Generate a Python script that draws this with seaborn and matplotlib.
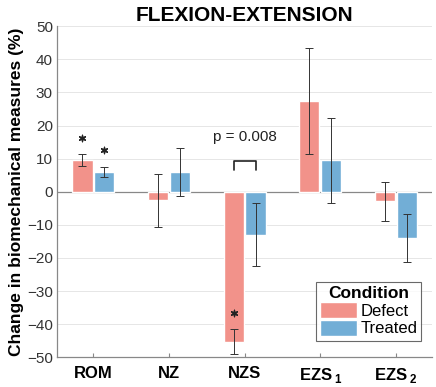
import numpy as np
import matplotlib
matplotlib.use('Agg')
import matplotlib.pyplot as plt
import seaborn as sns
import pandas as pd

# data
measures = ['ROM', 'NZ', 'NZS', 'EZS1', 'EZS2']
tick_labels = ['ROM', 'NZ', 'NZS', r'EZS$\,_{\mathbf{1}}$', r'EZS$\,_{\mathbf{2}}$']
defect = [9.5, -2.5, -45.3, 27.5, -2.8]
defect_lo = [7.8, -10.5, -49.0, 11.5, -8.8]
defect_hi = [11.3, 5.5, -41.5, 43.5, 3.0]
treated = [6.0, 6.0, -13.0, 9.5, -14.0]
treated_lo = [4.5, -1.2, -22.5, -3.5, -21.3]
treated_hi = [7.6, 13.3, -3.5, 22.3, -6.7]
stars_defect = [16.2, None, -36.5, None, None]
stars_treated = [12.6, None, None, None, None]
p_text = 'p = 0.008'

pal = {'Defect': '#F2928A', 'Treated': '#72AED6'}

df = pd.DataFrame({
    'Measure': measures * 2,
    'Condition': ['Defect'] * 5 + ['Treated'] * 5,
    'Change': defect + treated,
})

sns.set_style('white')
plt.rcParams['font.family'] = ['Liberation Sans', 'DejaVu Sans']
plt.rcParams['mathtext.fontset'] = 'custom'
plt.rcParams['mathtext.bf'] = 'Liberation Sans:bold'
plt.rcParams['text.color'] = 'black'

fig = plt.figure(figsize=(4.36, 3.87), dpi=100)
ax = fig.add_axes([0.131, 0.077, 0.86, 0.855])

sns.barplot(data=df, x='Measure', y='Change', hue='Condition', palette=pal,
            width=0.58, gap=0.08, saturation=1, errorbar=None, ax=ax,
            zorder=2)

# error bars, placed on the bar centres seaborn drew
for cont, means, lo, hi, stars in [(ax.containers[0], defect, defect_lo, defect_hi, stars_defect),
                                   (ax.containers[1], treated, treated_lo, treated_hi, stars_treated)]:
    xs = [p.get_x() + p.get_width() / 2 for p in cont.patches]
    m = np.array(means)
    yerr = [m - np.array(lo), np.array(hi) - m]
    ax.errorbar(xs, m, yerr=yerr, fmt='none', ecolor='#333333', elinewidth=0.7,
                capsize=3, capthick=0.7, zorder=3)
    sx = [x for x, s in zip(xs, stars) if s is not None]
    sy = [s for s in stars if s is not None]
    ax.scatter(sx, sy, marker=(6, 2, 0), s=22, color='#222222', linewidths=0.9, zorder=4)
    ax.scatter(sx, sy, marker='o', s=5, color='#222222', zorder=4)

# significance bracket on NZS
xd = ax.containers[0].patches[2]
xt = ax.containers[1].patches[2]
x1 = xd.get_x() + xd.get_width() / 2
x2 = xt.get_x() + xt.get_width() / 2
ax.plot([x1, x1, x2, x2], [6.6, 9.2, 9.2, 6.6], color='#222222', lw=1.2, zorder=4)
ax.text((x1 + x2) / 2, 14.5, p_text, ha='center', va='bottom', fontsize=11, color='#222222')

ax.axhline(0, color='#888888', lw=0.9, zorder=1)
ax.set_ylim(-50, 50)
ax.set_xlim(-0.48, 4.48)
ax.set_yticks(np.arange(-50, 51, 10))
ax.yaxis.grid(True, color='#e6e6e6', lw=0.7, zorder=0)
ax.set_axisbelow(True)
ax.tick_params(axis='y', labelsize=11, labelcolor='#333333', length=0, pad=3)
ax.tick_params(axis='x', direction='in', length=3, color='#888888', bottom=True, pad=6,
               labelcolor='black')
ax.set_xticks(range(5))
ax.set_xticklabels(tick_labels, fontsize=12, fontweight='bold')
for s in ['top', 'right']:
    ax.spines[s].set_visible(False)
for s in ['left', 'bottom']:
    ax.spines[s].set_color('#888888')
    ax.spines[s].set_linewidth(0.9)

ax.set_xlabel('')
ax.set_ylabel('Change in biomechanical measures (%)', fontsize=12.5, fontweight='bold',
              labelpad=2, color='black')
ax.set_title('FLEXION-EXTENSION', fontsize=15, fontweight='bold', pad=4, color='black')

leg = ax.legend(title='Condition', loc='lower right', bbox_to_anchor=(0.985, 0.035),
                fontsize=12, title_fontproperties={'weight': 'bold', 'size': 12.5},
                frameon=True, fancybox=False, edgecolor='#444444',
                handlelength=2.2, handleheight=1.1, handletextpad=0.2,
                borderpad=0.25, labelspacing=0.05, borderaxespad=0.3)
leg.get_frame().set_linewidth(0.8)

fig.savefig('out.png', dpi=100)
